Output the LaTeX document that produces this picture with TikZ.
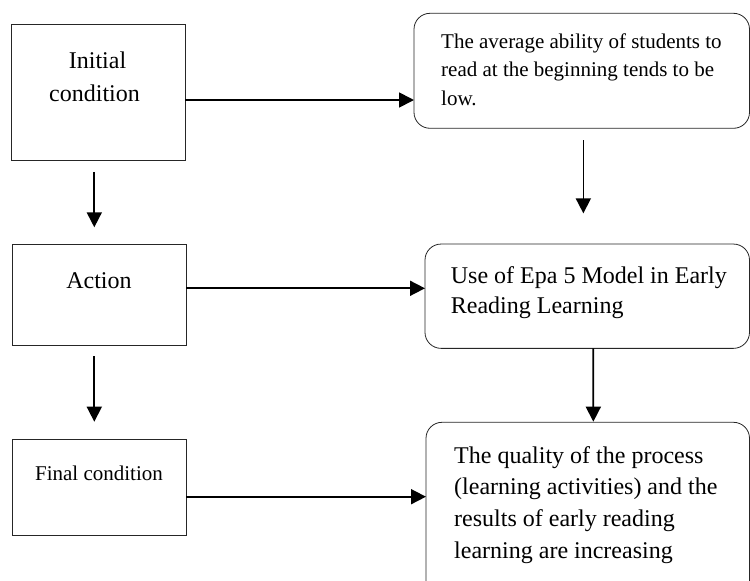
\documentclass[tikz,border=0pt]{standalone}
\usepackage{fontspec}
\setmainfont{Liberation Serif}
\usetikzlibrary{arrows.meta,calc}
\tikzset{
  lbox/.style={draw=black!85, line width=0.8pt, rectangle, inner sep=0pt, outer sep=0pt},
  rbox/.style={draw=black!85, line width=0.8pt, rectangle, rounded corners=16pt, inner sep=0pt, outer sep=0pt},
  arr/.style={line width=1.7pt, -{Triangle[length=15pt,width=15pt]}},
  bigtxt/.style={inner sep=0pt, font=\fontsize{24}{31.6}\selectfont},
  smalltxt/.style={inner sep=0pt, font=\fontsize{21}{28.3}\selectfont},
}
\begin{document}
\begin{tikzpicture}[x=1pt,y=-1pt]
\useasboundingbox (0,0) rectangle (750,581);
\clip (0,0) rectangle (750,581);
% left boxes
\node[lbox, minimum width=174pt, minimum height=136pt] (b1) at (98.2,92.2) {};
\node[lbox, minimum width=174pt, minimum height=101pt] (b2) at (99.3,294.5) {};
\node[lbox, minimum width=174pt, minimum height=96.4pt] (b3) at (99.3,487.5) {};
% right boxes
\node[rbox, minimum width=335.5pt, minimum height=115pt] (r1) at (581.75,70.8) {};
\node[rbox, minimum width=324.5pt, minimum height=104.3pt] (r2) at (587.25,296.2) {};
\node[rbox, minimum width=323.5pt, minimum height=180pt] (r3) at (587.75,512.3) {};
% texts
\node[bigtxt, anchor=base] (t1a) at (97.5,68.3) {Initial};
\node[bigtxt, anchor=base] (t1b) at (94.5,101.7) {condition};
\node[bigtxt, anchor=base] (t2) at (99,288.3) {Action};
\node[smalltxt, anchor=base] (t3) at (99,480) {Final condition};
\node[smalltxt, anchor=base west, align=left] (tr1) at (441,105) {The average ability of students to\\read at the beginning tends to be\\low.};
\node[bigtxt, anchor=base west, align=left, font=\fontsize{24}{30}\selectfont] (tr2) at (450.7,313.3) {Use of Epa 5 Model in Early\\Reading Learning};
\node[bigtxt, anchor=base west, align=left] (tr3) at (454,558) {The quality of the process\\(learning activities) and the\\results of early reading\\learning are increasing};
% horizontal arrows
\draw[arr] (b1.east |- 0,100) -- (r1.west |- 0,100);
\draw[arr] (b2.east |- 0,288.3) -- (r2.west |- 0,288.3);
\draw[arr] (b3.east |- 0,496.7) -- (r3.west |- 0,496.7);
% vertical arrows
\draw[arr] ($(b1.south)+(-3.9,11.7)$) -- ($(b2.north)+(-5,-16.7)$);
\draw[arr] ($(b2.south)+(-5,11)$) -- ($(b3.north)+(-5,-17.6)$);
\draw[arr] ($(r1.south)+(1.6,11.7)$) -- ($(r2.north)+(-3.9,-30.7)$);
\draw[arr] ($(r2.south)+(6,0)$) -- ($(r3.north)+(5.6,-0.6)$);
\end{tikzpicture}
\end{document}
